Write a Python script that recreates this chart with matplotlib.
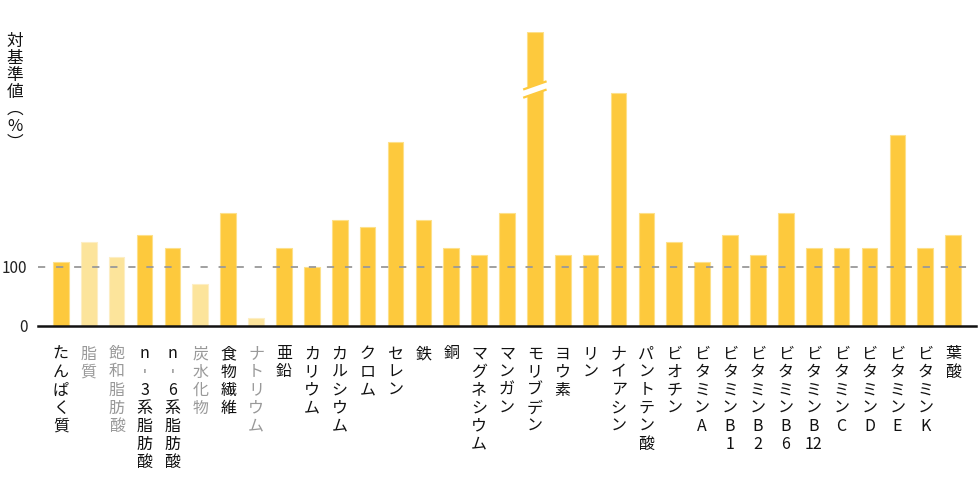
import matplotlib
matplotlib.use("Agg")
import matplotlib.pyplot as plt
from matplotlib.patches import Polygon

plt.rcParams['font.family'] = ['Noto Sans CJK JP', 'DejaVu Sans']

# 栄養素と対基準値(%)
nutrients = ["たんぱく質", "脂質", "飽和脂肪酸", "n-3系脂肪酸", "n-6系脂肪酸", "炭水化物",
             "食物繊維", "ナトリウム", "亜鉛", "カリウム", "カルシウム", "クロム", "セレン",
             "鉄", "銅", "マグネシウム", "マンガン", "モリブデン", "ヨウ素", "リン",
             "ナイアシン", "パントテン酸", "ビオチン", "ビタミンA", "ビタミンB1", "ビタミンB2",
             "ビタミンB6", "ビタミンB12", "ビタミンC", "ビタミンD", "ビタミンE", "ビタミンK", "葉酸"]
values = [108, 143, 117, 155, 132, 71, 192, 12, 132, 100, 180, 168, 313,
          180, 132, 120, 192, 500, 120, 120, 396, 192, 143, 108, 155, 120,
          192, 132, 132, 132, 324, 132, 155]
# 上限を超えて省略表示している栄養素
broken = ["モリブデン"]
# 薄い色で表示する栄養素
muted = ["脂質", "飽和脂肪酸", "炭水化物", "ナトリウム"]

yellow = "#fdc93d"
pale = "#fce49b"


def vertical(label):
    # 縦書き用に1文字ずつ改行 (数字の連続はまとめる)
    parts = []
    for ch in label:
        if ch == "-":
            ch = "︲"
        if parts and ch.isdigit() and parts[-1].isdigit():
            parts[-1] += ch
        else:
            parts.append(ch)
    return "\n".join(parts)


fig = plt.figure(figsize=(9.8, 4.9), dpi=100)
ax = fig.add_axes([38 / 980, 1 - 325.5 / 490, (976 - 38) / 980, (325.5 - 32) / 490])

x = list(range(len(nutrients)))
colors = [pale if n in muted else yellow for n in nutrients]
edges = ["#fdeec4" if n in muted else "#fde08a" for n in nutrients]
ax.bar(x, values, width=0.56, color=colors, edgecolor=edges, linewidth=0.8, zorder=2)

ax.axhline(100, color="#999999", lw=1.3, ls=(0, (4, 6)), zorder=3)

# 省略記号
for n in broken:
    i = nutrients.index(n)
    xl, xr = i - 0.42, i + 0.42
    y0, slope, gap = 388, 14, 14
    band = Polygon([(xl, y0), (xr, y0 + slope), (xr, y0 + slope + gap), (xl, y0 + gap)],
                   closed=True, facecolor="white", edgecolor="none", zorder=4)
    ax.add_patch(band)
    ax.plot([xl, xr], [y0, y0 + slope], color=yellow, lw=1.6, zorder=5, solid_capstyle="butt")
    ax.plot([xl, xr], [y0 + gap, y0 + slope + gap], color=yellow, lw=1.6, zorder=5,
            solid_capstyle="butt")

ax.set_xlim(-0.82, len(nutrients) - 1 + 0.82)
ax.set_ylim(0, 500)
ax.set_yticks([0, 100])
ax.set_yticklabels(["0", "100"], fontsize=11, color="#222222")
ax.tick_params(axis="y", length=0, pad=7.5)
ax.set_xticks([])

for s in ["top", "right", "left"]:
    ax.spines[s].set_visible(False)
ax.spines["bottom"].set_linewidth(1.8)
ax.spines["bottom"].set_color("#111111")
ax.spines["bottom"].set_zorder(6)

for i, n in enumerate(nutrients):
    ax.text(i, -34, vertical(n), ha="center", va="top", ma="center",
            fontsize=11.5, linespacing=1.08,
            color="#999999" if n in muted else "#111111")

fig.text(15 / 980, 1 - 33 / 490, "\n".join("対基準値︵%︶"), ha="center", va="top",
         ma="center", fontsize=12, linespacing=1.0, color="#111111")

fig.savefig("out.png", dpi=100)
